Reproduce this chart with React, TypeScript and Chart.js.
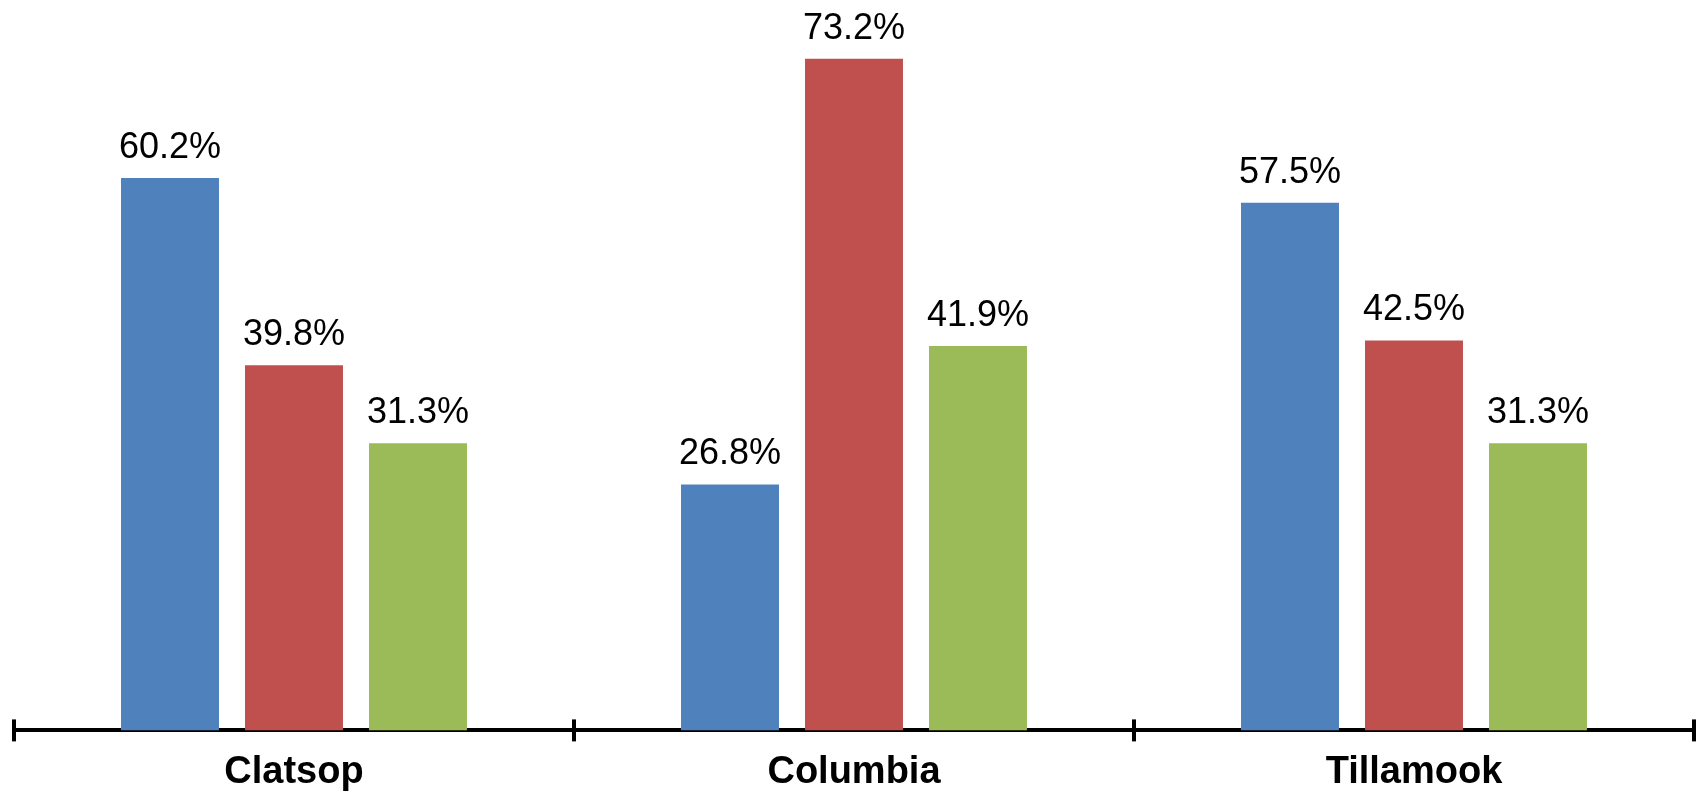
import React, { useEffect, useRef } from "react";
import { Chart, registerables } from "chart.js";

Chart.register(...registerables);

const categories = ["Clatsop", "Columbia", "Tillamook"];
const seriesNames = ["Series 1", "Series 2", "Series 3"];
const seriesBlue = [60.2, 26.8, 57.5];
const seriesRed = [39.8, 73.2, 42.5];
const seriesGreen = [31.3, 41.9, 31.3];
const seriesColors = ["#4F81BD", "#C0504D", "#9BBB59"];
const yMin = 0;
const yMax = 79.6;

const FONT_FAMILY = '"Liberation Sans", Arial, Helvetica, sans-serif';

const valueLabelPlugin = {
  id: "valueLabels",
  afterDatasetsDraw(chart: any) {
    const ctx = chart.ctx;
    ctx.save();
    ctx.font = `36px ${FONT_FAMILY}`;
    ctx.fillStyle = "#000000";
    ctx.textAlign = "center";
    ctx.textBaseline = "alphabetic";
    chart.data.datasets.forEach((ds: any, i: number) => {
      const meta = chart.getDatasetMeta(i);
      meta.data.forEach((bar: any, j: number) => {
        const v = ds.data[j] as number;
        ctx.fillText(v.toFixed(1) + "%", bar.x, bar.y - 20);
      });
    });
    ctx.restore();
  },
};

const upperTickPlugin = {
  id: "upperTicks",
  afterDraw(chart: any) {
    const xs = chart.scales.x;
    const ctx = chart.ctx;
    const bottom = chart.chartArea.bottom;
    ctx.save();
    ctx.strokeStyle = "#000000";
    ctx.lineWidth = 4;
    const n = xs.ticks.length;
    for (let i = 0; i <= n; i++) {
      const px = Math.round(xs.getPixelForValue(i - 0.5));
      ctx.beginPath();
      ctx.moveTo(px, bottom - 11);
      ctx.lineTo(px, bottom);
      ctx.stroke();
    }
    ctx.restore();
  },
};

export default function App() {
  const canvasRef = useRef<HTMLCanvasElement | null>(null);

  useEffect(() => {
    if (!canvasRef.current) return;
    const data = [seriesBlue, seriesRed, seriesGreen];
    const chart = new Chart(canvasRef.current, {
      type: "bar",
      data: {
        labels: categories,
        datasets: data.map((d, i) => ({
          label: seriesNames[i],
          data: d,
          backgroundColor: seriesColors[i],
          borderWidth: 0,
          categoryPercentage: 0.6643,
          barPercentage: 0.79,
        })),
      },
      options: {
        responsive: false,
        animation: false,
        layout: { padding: { left: 14, right: 11, top: 0, bottom: -9 } },
        plugins: {
          legend: { display: false },
          tooltip: { enabled: false },
          title: { display: false },
        },
        scales: {
          x: {
            offset: true,
            border: { display: true, color: "#000000", width: 4 },
            grid: {
              display: true,
              drawOnChartArea: false,
              drawTicks: true,
              tickLength: 11,
              tickWidth: 4,
              tickColor: "#000000",
              color: "#000000",
              lineWidth: 4,
              offset: true,
            },
            ticks: {
              color: "#000000",
              padding: 8,
              font: { family: FONT_FAMILY, size: 38, weight: "bold" },
              maxRotation: 0,
              autoSkip: false,
            },
          },
          y: {
            display: false,
            min: yMin,
            max: yMax,
          },
        },
      },
      plugins: [valueLabelPlugin, upperTickPlugin],
    });
    return () => chart.destroy();
  }, []);

  return (
    <div style={{ position: "absolute", left: 0, top: 0, width: 1705, height: 794, background: "#ffffff" }}>
      <canvas ref={canvasRef} width={1705} height={794} />
    </div>
  );
}
